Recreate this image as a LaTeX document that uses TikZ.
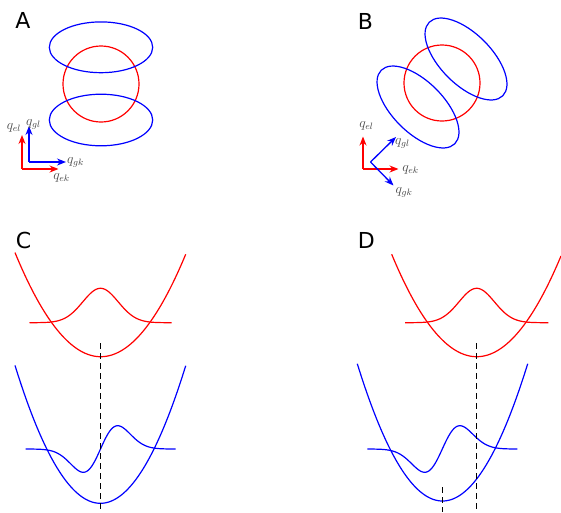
\documentclass[tikz,border=0pt]{standalone}
\usepackage{fontspec}
\setsansfont{DejaVu Sans}
\usetikzlibrary{arrows.meta}

\begin{document}
\begin{tikzpicture}[
  x=1pt, y=-1pt,
  curve/.style={line width=1.2pt},
  dashline/.style={line width=1.1pt, dash pattern=on 6pt off 4pt},
  axis/.style={line width=1.3pt, -{Stealth[length=9pt,width=7pt]}},
  panel/.style={font=\sffamily\fontsize{22}{22}\selectfont, inner sep=0pt},
  qlabel/.style={font=\large, scale=1.15, text=black!72, inner sep=0pt}
]
  \useasboundingbox (0,0) rectangle (561,512);

  \node[panel] (labA) at (23,20.5) {A};
  \node[panel] (labB) at (365.5,21) {B};
  \node[panel] (labC) at (23.5,240.5) {C};
  \node[panel] (labD) at (366.3,240) {D};

  \draw[curve, red] (101,84) circle [radius=38pt];
  \draw[curve, blue] (101,47.3) ellipse [x radius=51.7pt, y radius=25.4pt];
  \draw[curve, blue] (101,120) ellipse [x radius=51.7pt, y radius=25.8pt];

  \coordinate (aRo) at (22,169);
  \coordinate (aRx) at (58.5,169);
  \coordinate (aRy) at (22,135);
  \coordinate (aBo) at (29,162);
  \coordinate (aBx) at (66,162);
  \coordinate (aBy) at (29,126);
  \draw[axis, red] (aRo) -- (aRx);
  \draw[axis, red] (aRo) -- (aRy);
  \draw[axis, blue] (aBo) -- (aBx);
  \draw[axis, blue] (aBo) -- (aBy);
  \node[qlabel] (aEl) at (14,128) {$q_{el}$};
  \node[qlabel] (aGl) at (33.5,124) {$q_{gl}$};
  \node[qlabel] (aGk) at (75.5,162) {$q_{gk}$};
  \node[qlabel] (aEk) at (61.5,177.5) {$q_{ek}$};

  \draw[curve, red] (442,83) circle [radius=38pt];
  \draw[curve, blue] (466,59) ellipse [x radius=52pt, y radius=25.5pt, rotate=-45];
  \draw[curve, blue] (418,107) ellipse [x radius=52pt, y radius=25.5pt, rotate=-45];

  \coordinate (bRo) at (363,169);
  \coordinate (bRx) at (398.5,169);
  \coordinate (bRy) at (363,136.5);
  \coordinate (bBo) at (370.5,162);
  \coordinate (bBu) at (396,137);
  \coordinate (bBd) at (393.5,185.5);
  \draw[axis, red] (bRo) -- (bRx);
  \draw[axis, red] (bRo) -- (bRy);
  \draw[axis, blue] (bBo) -- (bBu);
  \draw[axis, blue] (bBo) -- (bBd);
  \node[qlabel] (bEl) at (366.5,126) {$q_{el}$};
  \node[qlabel] (bGl) at (402.5,143.5) {$q_{gl}$};
  \node[qlabel] (bEk) at (410.5,169.5) {$q_{ek}$};
  \node[qlabel] (bGk) at (404,192) {$q_{gk}$};

  \draw[curve, red, domain=15:185.7, samples=120]
    plot (\x, {356.7-0.01417*(\x-100.7)^2});
  \draw[curve, red, domain=29.5:171.5, samples=120]
    plot (\x, {322.7-34.4*exp(-((\x-100.5)/17.7)^2/2)});
  \draw[curve, blue, domain=15:185.7, samples=120]
    plot (\x, {503.3-0.0189*(\x-100.4)^2});
  \draw[curve, blue, domain=25.5:175.5, samples=150]
    plot (\x, {449-38.4*((\x-100.5)/17.2)*exp(-((\x-100.5)/17.2)^2/2)});
  \coordinate (cTop) at (100.7,343);
  \coordinate (cBot) at (100.7,512);
  \draw[dashline] (cTop) -- (cBot);

  \draw[curve, red, domain=391.7:561, samples=120]
    plot (\x, {356.7-0.01417*(\x-476.7)^2});
  \draw[curve, red, domain=405:548.3, samples=120]
    plot (\x, {322.7-34.4*exp(-((\x-476.7)/17.7)^2/2)});
  \draw[curve, blue, domain=357.3:527.7, samples=120]
    plot (\x, {501-0.0189*(\x-442.5)^2});
  \draw[curve, blue, domain=367.3:517.3, samples=150]
    plot (\x, {449-38.4*((\x-442.3)/17.6)*exp(-((\x-442.3)/17.6)^2/2)});
  \coordinate (dTop) at (476.7,343);
  \coordinate (dBot) at (476.7,512);
  \coordinate (dTopB) at (442.7,487);
  \coordinate (dBotB) at (442.7,512);
  \draw[dashline] (dTop) -- (dBot);
  \draw[dashline] (dTopB) -- (dBotB);
\end{tikzpicture}
\end{document}
